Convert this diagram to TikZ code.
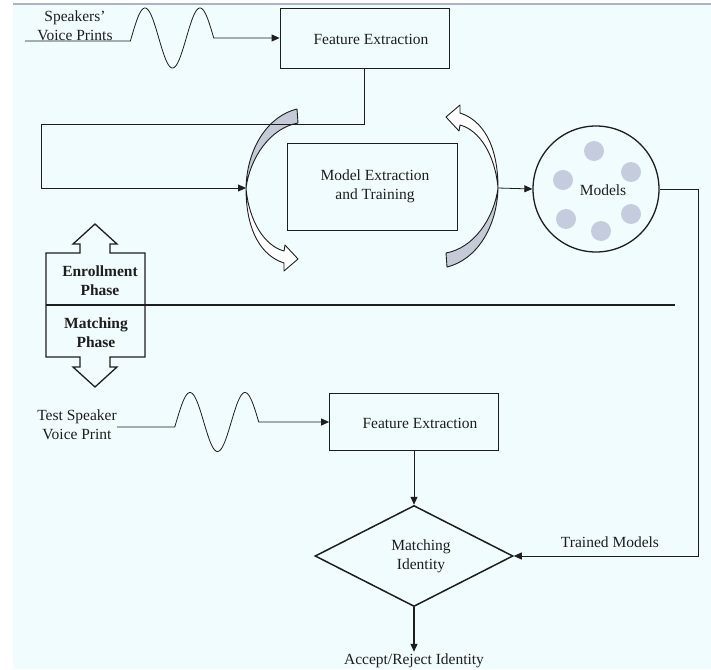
\documentclass[tikz,border=0pt]{standalone}
\usepackage{fontspec}
\setmainfont{Liberation Serif}
\usetikzlibrary{arrows.meta,shapes.geometric}
\definecolor{bgcyan}{RGB}{241,252,255}
\definecolor{rulegrey}{RGB}{170,180,196}
\definecolor{ink}{RGB}{30,30,30}
\definecolor{crescent}{RGB}{196,202,214}
\definecolor{dotfill}{RGB}{197,204,221}

% one half of the training loop: shaded back band plus the white arrow head
\newcommand\trainingloop{%
  \path[curvedarrow,fill=crescent] (297,109) .. controls (268,116) and (247,148) .. (246,188)
    .. controls (250,158) and (270,128) .. (298,123) -- cycle;
  \path[curvedarrow,fill=white] (246,188) .. controls (246,232) and (262,256) .. (284,263)
    -- (284,271) -- (298,259) -- (285,245) -- (284,251)
    .. controls (265,246) and (249,222) .. (246,188) -- cycle;
}

\begin{document}
\begin{tikzpicture}[x=1pt,y=-1pt,
  font=\fontsize{15.5}{19}\selectfont,
  lbl/.style={text=ink,inner sep=1pt,align=center},
  wire/.style={draw=ink,line width=0.8pt},
  arr/.style={wire,-{Triangle[length=8pt,width=7pt]}},
  box/.style={draw=ink,line width=0.8pt,inner sep=0pt,rectangle},
  thick line/.style={draw=ink,line width=1.3pt},
  curvedarrow/.style={draw=ink,line width=0.9pt,line join=round},
  ]
% page and background
\useasboundingbox (0,0) rectangle (711,669);
\fill[white] (0,0) rectangle (711,669);
\fill[bgcyan] (13,5) rectangle (711,669);
\draw[rulegrey,line width=2pt] (13,4) -- (711,4);

% ---------- enrollment phase ----------
\node[lbl] (spk) at (75,26) {Speakers’\\Voice Prints};
\coordinate (vin) at (25,41);
\node[box,minimum width=169pt,minimum height=60pt] (fe1) at (364.5,38) {};
\node[lbl] (fe1txt) at (371,39) {Feature Extraction};
\draw[arr] (vin) -- (130.4,41)
  -- plot[domain=130.4:213.75,samples=90] (\x,{38-30*cos((\x-145)/55*360)})
  -- (fe1.west);

\node[box,minimum width=170pt,minimum height=87pt] (mex) at (372,186.5) {};
\node[lbl] (mextxt) at (375,186) {Model Extraction\\and Training};

% curved training arrows on both sides of the model box
\coordinate (lin) at (246,188);
\coordinate (rout) at (498,188);
\begin{scope}
  \trainingloop
\end{scope}
\begin{scope}[rotate around={180:(372,188)}]
  \trainingloop
\end{scope}

\draw[arr] (fe1.south) -- ++(0,56) -| (41,188) -- (lin);

% model store
\node[circle,draw=ink,line width=1.3pt,minimum size=126pt,inner sep=0pt] (models) at (596,189) {};
\foreach \px/\py in {594/151, 631/172, 563/180, 566/219, 631/214, 601/231}
  \fill[dotfill] (\px,\py) circle (10);
\node[lbl] (modtxt) at (603,190) {Models};
\draw[arr] (rout) -- (models.west);

% ---------- phase divider ----------
\draw[thick line,fill=bgcyan,line join=miter]
  (95,224) -- (117,244) -- (110,244) -- (110,253) -- (145,253) -- (145,357)
  -- (110,357) -- (110,367) -- (117,367) -- (95,387) -- (73,367) -- (80,367)
  -- (80,357) -- (46,357) -- (46,253) -- (80,253) -- (80,244) -- (73,244) -- cycle;
\draw[thick line] (46,305) -- (675,305);
\node[lbl,font=\fontsize{15.5}{19}\selectfont\bfseries] (enr) at (100,281) {Enrollment\\Phase};
\node[lbl,font=\fontsize{15.5}{19}\selectfont\bfseries] (mat) at (96,333) {Matching\\Phase};

% ---------- matching phase ----------
\node[lbl] (tsp) at (77,425) {Test Speaker\\Voice Print};
\coordinate (tin) at (117,427);
\node[box,minimum width=169pt,minimum height=57pt] (fe2) at (414,422) {};
\node[lbl] (fe2txt) at (420,423) {Feature Extraction};
\draw[arr] (tin) -- (174.8,427)
  -- plot[domain=174.8:258.75,samples=90] (\x,{422-29.5*cos((\x-190)/55*360)})
  -- (fe2.west);

\node[diamond,draw=ink,line width=1.5pt,minimum width=198pt,minimum height=101pt,inner sep=0pt] (match) at (414,556) {};
\node[lbl] (matchtxt) at (421,556) {Matching\\Identity};
\draw[arr] (fe2.south) -- (match.north);

\draw[arr] (models.east) -- (698,189) |- (match.east);
\node[lbl] (trained) at (610,542) {Trained Models};

\node[lbl,inner sep=2pt] (accept) at (414,661) {Accept/Reject Identity};
\draw[arr,line width=1.3pt] (match.south) -- (accept.north);
\end{tikzpicture}
\end{document}
